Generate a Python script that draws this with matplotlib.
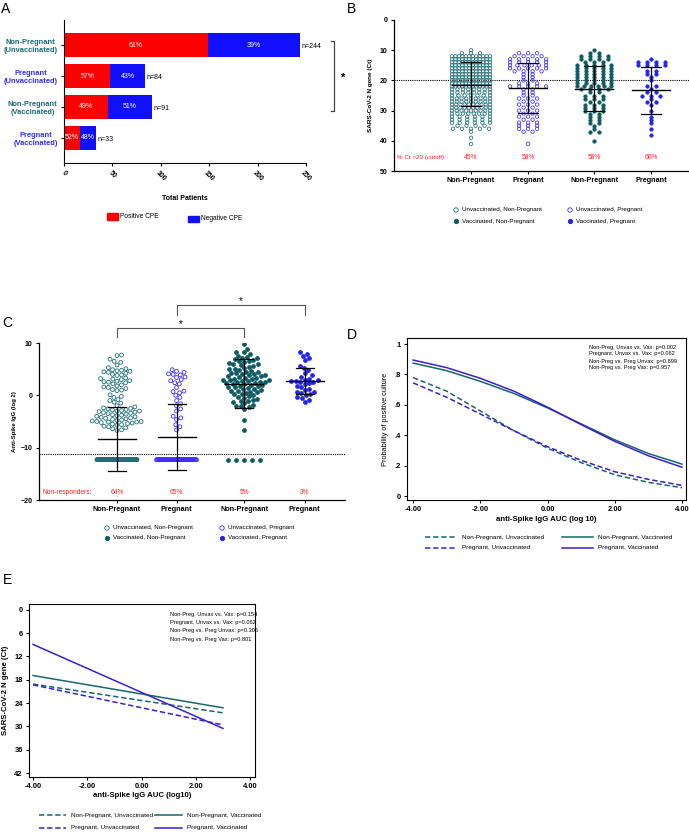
import numpy as np
import matplotlib
matplotlib.use("Agg")
import matplotlib.pyplot as plt
from matplotlib.patches import Rectangle

plt.rcParams['font.family'] = ['Liberation Sans', 'DejaVu Sans']

W, H = 689, 832

# ---------------- data ----------------
# panel A
a_groups = ["Non-Pregnant\n(Unvaccinated)", "Pregnant\n(Unvaccinated)",
            "Non-Pregnant\n(Vaccinated)", "Pregnant\n(Vaccinated)"]
a_positive = [149, 48, 45, 17]
a_total = [244, 84, 91, 33]
a_pos_pct = ["61%", "57%", "49%", "52%"]
a_neg_pct = ["39%", "43%", "51%", "48%"]

# panel B: Ct values (rounded to whole cycles) and how many patients at each
b_np_unvax_ct = list(range(10, 42))
b_np_unvax_n = [1, 3, 12, 12, 12, 12, 12, 12, 12, 12, 12, 12, 12, 8, 8, 7, 9, 9, 10, 10,
                9, 8, 6, 6, 6, 4, 5, 1, 0, 1, 0, 1]
b_preg_unvax_ct = list(range(11, 42))
b_preg_unvax_n = [3, 4, 5, 5, 6, 5, 4, 2, 2, 2, 3, 5, 2, 2, 2, 3, 2, 3, 2, 3,
                  2, 3, 2, 3, 3, 3, 2, 0, 0, 0, 1]
b_np_vax_ct = list(range(10, 41))
b_np_vax_n = [1, 2, 4, 4, 3, 5, 5, 5, 5, 5, 5, 5, 6, 4, 2, 3, 3, 2, 3, 3,
              3, 2, 2, 2, 2, 1, 1, 2, 0, 0, 1]
b_preg_vax_ct = list(range(13, 39))
b_preg_vax_n = [1, 4, 4, 0, 2, 2, 1, 1, 0, 2, 1, 2, 3, 1, 2, 1, 0, 1, 0, 1,
                1, 1, 0, 1, 0, 1]
b_mean = [21.5, 22.5, 22.8, 23.2]
b_sd_lo = [14.0, 14.4, 15.3, 15.5]
b_sd_hi = [28.6, 30.8, 30.2, 31.1]
b_pct = ["45%", "58%", "58%", "60%"]
b_cutoff = 20

# panel C: anti-spike IgG (log2), non-responders sit at the floor value
c_floor = -12.3
c_floor_n = [156, 55, 5, 0]
c_np_unvax = [7.7, 7.6, 6.9, 6.5, 6.3, 5.8, 5.3, 5.1, 4.9, 4.8, 4.7, 4.6, 4.5, 4.4, 4.2, 4.0,
              3.9, 3.8, 3.3, 3.2, 3.1, 3.0, 2.8, 2.7, 2.6, 2.5, 2.4, 2.0, 1.8, 1.6, 1.5, 1.3,
              1.0, 0.9, 0.1, -0.4, -0.8, -1.0, -1.3, -1.5, -2.0, -2.2, -2.4, -2.6, -2.7, -2.8,
              -2.9, -3.0, -3.0, -3.1, -3.2, -3.3, -3.4, -3.5, -3.6, -3.7, -3.8, -4.0, -4.1,
              -4.2, -4.4, -4.5, -4.6, -4.7, -4.8, -4.9, -5.0, -5.0, -5.1, -5.1, -5.2, -5.3,
              -5.4, -5.5, -5.6, -5.7, -5.9, -6.0, -6.2, -6.4, -6.6, -6.7, 1.1, 2.2, -0.2,
              -3.9, -4.3, -2.5]
c_preg_unvax = [4.9, 4.6, 4.4, 4.1, 4.0, 3.9, 3.5, 3.4, 3.0, 2.8, 2.4, 2.2, 1.5, 0.8, 0.7,
                0.5, 0.0, -0.4, -1.0, -1.6, -2.0, -2.6, -3.0, -4.0, -4.3, -4.6, -5.6, -6.0, -6.6]
c_np_vax = [9.8, 8.9, 8.3, 8.2, 7.9, 7.5, 7.3, 7.2, 7.0, 6.8, 6.6, 6.5, 6.3, 6.1, 6.0, 5.8,
            5.6, 5.5, 5.3, 5.1, 5.0, 4.8, 4.7, 4.5, 4.4, 4.2, 4.1, 4.0, 3.9, 3.8, 3.7, 3.6,
            3.5, 3.4, 3.3, 3.2, 3.1, 3.0, 2.9, 2.8, 2.7, 2.6, 2.5, 2.4, 2.3, 2.2, 2.1, 2.0,
            1.9, 1.8, 1.6, 1.5, 1.4, 1.3, 1.2, 1.0, 0.9, 0.8, 0.6, 0.5, 0.3, 0.2, 0.0, -0.2,
            -0.3, -0.5, -0.7, -0.9, -1.1, -1.3, -1.5, -1.8, -2.0, -2.1, -2.3, -2.6, -4.7,
            -6.7, 5.9, 4.3, 3.0, 2.6, 1.7, 0.7, -1.0, 7.1]
c_preg_vax = [8.3, 7.9, 7.6, 7.1, 6.8, 5.6, 5.2, 4.8, 4.3, 3.8, 3.5, 3.2, 3.0, 2.8, 2.7, 2.6,
              2.5, 2.3, 2.1, 1.8, 1.5, 1.2, 1.0, 0.7, 0.6, 0.4, 0.2, 0.0, -0.3, -0.5, -0.9,
              -1.2, 2.9]
c_mean = [-8.3, -8.0, 2.2, 2.7]
c_sd_lo = [-14.4, -14.3, -2.5, 0.2]
c_sd_hi = [-2.3, -1.7, 6.9, 5.3]
c_pct = ["64%", "65%", "5%", "3%"]
c_cutoff = -11.3

cat_labels = ["Non-Pregnant", "Pregnant", "Non-Pregnant", "Pregnant"]
legend_names = ["Unvaccinated, Non-Pregnant", "Unvaccinated, Pregnant",
                "Vaccinated, Non-Pregnant", "Vaccinated, Pregnant"]

# panel D: predicted probability of positive culture
d_x = [-4, -3, -2, -1, 0, 1, 2, 3, 4]
d_np_unvax = [0.78, 0.69, 0.56, 0.43, 0.315, 0.22, 0.14, 0.09, 0.055]
d_preg_unvax = [0.745, 0.65, 0.54, 0.43, 0.325, 0.235, 0.16, 0.11, 0.07]
d_np_vax = [0.875, 0.825, 0.755, 0.675, 0.58, 0.475, 0.37, 0.28, 0.21]
d_preg_vax = [0.895, 0.845, 0.775, 0.69, 0.585, 0.47, 0.36, 0.265, 0.19]
d_notes = ["Non-Preg, Unvax vs. Vax: p=0.002", "Pregnant, Unvax vs. Vax: p=0.062",
           "Non-Preg vs. Preg Unvax: p=0.899", "Non-Preg vs. Preg Vax: p=0.957"]

# panel E: predicted Ct
e_x = [-4, 3]
e_np_unvax = [19.1, 26.5]
e_preg_unvax = [19.3, 29.6]
e_np_vax = [16.9, 25.2]
e_preg_vax = [8.9, 30.5]
e_notes = ["Non-Preg, Unvax vs. Vax: p=0.154", "Pregnant, Unvax vs. Vax: p=0.062",
           "Non-Preg vs. Preg Unvax: p=0.306", "Non-Preg vs. Preg Vax: p=0.801"]
line_names = ["Non-Pregnant, Unvaccinated", "Non-Pregnant, Vaccinated",
              "Pregnant, Unvaccinated", "Pregnant, Vaccinated"]

# ---------------- styles ----------------
teal_txt = '#176b76'
blue_txt = '#2e2ef5'
teal_open = '#1f7079'
teal_fill = '#0c5a62'
blue_open = '#3d2bff'
blue_fill = '#2323f0'
line_teal = '#16666e'
line_purple = '#3b1ecf'
red_txt = '#ff2020'
FS = 5


def rect(x0, y0, x1, y1):
    return [x0 / W, 1 - y1 / H, (x1 - x0) / W, (y1 - y0) / H]


def swarm(vals, d, yscale):
    # simple beeswarm, offsets in pixels
    ypx = np.asarray(vals, float) * yscale
    xs = np.zeros(len(ypx))
    placed = []
    for i in np.argsort(ypx):
        y = ypx[i]
        near = [(px, py) for px, py in placed if abs(py - y) < d]
        cands = [0.0]
        for px, py in near:
            dx = np.sqrt(d * d - (py - y) ** 2)
            cands += [px + dx, px - dx]
        cands.sort(key=abs)
        for c in cands:
            if all((c - px) ** 2 + (y - py) ** 2 >= d * d - 1e-6 for px, py in near):
                xs[i] = c
                break
        placed.append((xs[i], y))
    return xs


def row_offsets(n, half_w, max_gap):
    # spread the points of one row across the column
    if n == 1:
        return np.array([0.0])
    hw = min(half_w, (n - 1) * max_gap / 2)
    return np.linspace(-hw, hw, n)


fig = plt.figure(figsize=(W / 100, H / 100), dpi=100)
ov = fig.add_axes([0, 0, 1, 1])
ov.set_xlim(0, W)
ov.set_ylim(H, 0)
ov.axis('off')
ov.set_zorder(10)

for lab, (x, y) in zip("ABCDE", [(1, 9), (347, 9), (2, 323), (347, 335), (3, 580)]):
    ov.text(x, y, lab, fontsize=10, va='center', ha='left')

# ---------------- A ----------------
ax = fig.add_axes(rect(64, 20, 306, 163))
ypos = np.arange(len(a_groups))
neg = [t - p for t, p in zip(a_total, a_positive)]
ax.barh(ypos, a_positive, height=0.8, color='#ff0000')
ax.barh(ypos, neg, left=a_positive, height=0.8, color='#1010ff')
for i in range(len(a_groups)):
    ax.text(a_positive[i] / 2, i, a_pos_pct[i], color='white', fontsize=FS,
            ha='center', va='center')
    ax.text(a_positive[i] + neg[i] / 2, i, a_neg_pct[i], color='white', fontsize=FS,
            ha='center', va='center')
    ax.text(a_total[i] + 1.5, i + 0.05, "n=%d" % a_total[i], fontsize=FS,
            ha='left', va='center')
ax.set_xlim(0, 250)
ax.set_ylim(3.81, -0.81)
ax.set_yticks(ypos)
ax.set_yticklabels(a_groups, fontsize=5.4, fontweight='bold', multialignment='center')
for t, c in zip(ax.get_yticklabels(), [teal_txt, blue_txt, teal_txt, blue_txt]):
    t.set_color(c)
ax.set_xticks([0, 50, 100, 150, 200, 250])
ax.set_xticklabels(['0', '50', '100', '150', '200', '250'], rotation=-45,
                   ha='center', va='top', fontsize=FS, fontweight='bold')
ax.spines[['top', 'right']].set_visible(False)
ax.spines[['left', 'bottom']].set_linewidth(0.8)
ax.tick_params(length=2.5, width=0.8, pad=2)
ax.set_xlabel("Total Patients", fontsize=FS, fontweight='bold', labelpad=9)
# significance bracket
ax.plot([276, 279, 279, 276], [-0.13, -0.13, 2.13, 2.13], color='#444444', lw=0.9,
        clip_on=False)
ax.text(286, 1.06, "*", fontsize=8, fontweight='bold', ha='left', va='center')
# legend
ov.add_patch(Rectangle((107, 213), 11, 7, color='#ff0000'))
ov.text(120, 216.5, "Positive CPE", fontsize=4.8, va='center')
ov.add_patch(Rectangle((188, 216), 11, 6, color='#1010ff'))
ov.text(201, 219, "Negative CPE", fontsize=4.8, va='center')


def error_bars(ax, pos, mean, lo, hi, hw_mean, hw_cap):
    for p, m, l, h in zip(pos, mean, lo, hi):
        ax.plot([p, p], [l, h], color='black', lw=0.9, zorder=5)
        ax.plot([p - hw_mean, p + hw_mean], [m, m], color='black', lw=1.0, zorder=5)
        ax.plot([p - hw_cap, p + hw_cap], [l, l], color='black', lw=0.9, zorder=5)
        ax.plot([p - hw_cap, p + hw_cap], [h, h], color='black', lw=0.9, zorder=5)


styles = [dict(facecolors='none', edgecolors=teal_open),
          dict(facecolors='none', edgecolors=blue_open),
          dict(color=teal_fill),
          dict(color=blue_fill)]

# ---------------- B ----------------
ax = fig.add_axes(rect(394, 20, 689, 171))
b_pos = [1, 2, 3.16, 4.16]
bx_scale = 57.0
b_groups = [(b_np_unvax_ct, b_np_unvax_n), (b_preg_unvax_ct, b_preg_unvax_n),
            (b_np_vax_ct, b_np_vax_n), (b_preg_vax_ct, b_preg_vax_n)]
b_half = [19, 18, 17, 17]
for p, (cts, ns), hw, st in zip(b_pos, b_groups, b_half, styles):
    xs, ys = [], []
    for ct, n in zip(cts, ns):
        if n == 0:
            continue
        xs += list(p + row_offsets(n, hw, 9) / bx_scale)
        ys += [ct] * n
    ax.scatter(xs, ys, s=6, linewidths=0.55, zorder=3, **st)
error_bars(ax, b_pos, b_mean, b_sd_lo, b_sd_hi, 19 / bx_scale, 10 / bx_scale)
ax.axhline(b_cutoff, color='black', lw=0.8, ls=(0, (1, 1)), zorder=2)
ax.set_ylim(50, 0)
ax.set_xlim(-0.35, 4.82)
ax.set_yticks([0, 10, 20, 30, 40, 50])
ax.set_xticks(b_pos)
ax.set_xticklabels(cat_labels, fontsize=5.2, fontweight='bold')
for t in ax.get_yticklabels():
    t.set_fontweight('bold')
ax.tick_params(axis='y', labelsize=FS, length=2.5, width=0.8, pad=2)
ax.tick_params(axis='x', length=2.5, width=0.8, pad=2)
ax.spines[['top', 'right']].set_visible(False)
ax.spines[['left', 'bottom']].set_linewidth(0.9)
ax.set_ylabel("SARS-CoV-2 N gene (Ct)", fontsize=4.6, fontweight='bold', labelpad=5)
tr = ax.get_yaxis_transform()
ax.text(0.01, 45.5, "% Ct >20 (cutoff):", color=red_txt, fontsize=4.5, va='center',
        transform=tr)
for p, s in zip(b_pos, b_pct):
    ax.text(p, 45.5, s, color=red_txt, fontsize=4.8, ha='center', va='center')

# ---------------- C ----------------
ax = fig.add_axes(rect(39, 343, 345, 500))
c_pos = [1, 2, 3.14, 4.15]
cx_scale = 59.5
cy_scale = 157 / 30
c_sets = [c_np_unvax, c_preg_unvax, c_np_vax, c_preg_vax]
floor_hw = [20, 20, 16, 0]
for p, vals, nf, hw, st in zip(c_pos, c_sets, c_floor_n, floor_hw, styles):
    off = swarm(vals, 4.6, cy_scale)
    xs = list(p + off / cx_scale)
    ys = list(vals)
    if nf > 0:
        xs += list(p + np.linspace(-hw, hw, nf) / cx_scale)
        ys += [c_floor] * nf
    ax.scatter(xs, ys, s=7.5, linewidths=0.6, zorder=3, **st)
error_bars(ax, c_pos, c_mean, c_sd_lo, c_sd_hi, 19 / cx_scale, 9 / cx_scale)
ax.axhline(c_cutoff, color='black', lw=0.8, ls=(0, (1, 1)), zorder=2)
ax.set_ylim(-20, 10)
ax.set_xlim(-0.31, 4.83)
ax.set_yticks([-20, -10, 0, 10])
ax.set_xticks(c_pos)
ax.set_xticklabels(cat_labels, fontsize=5.2, fontweight='bold')
for t in ax.get_yticklabels():
    t.set_fontweight('bold')
ax.tick_params(axis='y', labelsize=FS, length=2.5, width=0.8, pad=2)
ax.tick_params(axis='x', length=2.5, width=0.8, pad=2)
ax.spines[['top', 'right']].set_visible(False)
ax.spines[['left', 'bottom']].set_linewidth(0.9)
ax.set_ylabel("Anti-Spike IgG (log 2)", fontsize=4.3, fontweight='bold', labelpad=3)
tr = ax.get_yaxis_transform()
ax.text(0.01, -18.5, "Non-responders:", color=red_txt, fontsize=4.8, va='center',
        transform=tr)
for p, s in zip(c_pos, c_pct):
    ax.text(p, -18.5, s, color=red_txt, fontsize=4.8, ha='center', va='center')
# brackets
ax.plot([c_pos[0], c_pos[0], c_pos[2], c_pos[2]], [11.1, 12.9, 12.9, 11.1],
        color='#555555', lw=0.8, clip_on=False)
ax.text((c_pos[0] + c_pos[2]) / 2, 13.6, "*", fontsize=7, ha='center', va='center')
ax.plot([c_pos[1], c_pos[1], c_pos[3], c_pos[3]], [15.4, 17.3, 17.3, 15.4],
        color='#555555', lw=0.8, clip_on=False)
ax.text((c_pos[1] + c_pos[3]) / 2, 18.0, "*", fontsize=7, ha='center', va='center')

# legends for B and C
leg_kw = [dict(facecolors='none', edgecolors=teal_open), dict(facecolors='none', edgecolors=blue_open),
          dict(color=teal_fill), dict(color=blue_fill)]
for (mx1, mx2, y1, y2) in [(456, 570, 210, 221), (107, 222, 528, 538)]:
    spots = [(mx1, y1), (mx2, y1), (mx1, y2), (mx2, y2)]
    for (mx, my), name, kw in zip(spots, legend_names, leg_kw):
        ov.scatter([mx], [my], s=10, linewidths=0.6, **kw)
        ov.text(mx + 6, my, name, fontsize=4.5, va='center')


# ---------------- D ----------------
def line_panel(ax):
    for sp in ax.spines.values():
        sp.set_linewidth(0.8)
    ax.tick_params(length=2.5, width=0.8, pad=2, labelsize=5.4)
    for t in ax.get_xticklabels() + ax.get_yticklabels():
        t.set_fontweight('bold')


ax = fig.add_axes(rect(407, 338, 686, 500))
dash = (0, (3.5, 1.8))
ax.plot(d_x, d_np_unvax, color=line_teal, lw=1.1, ls=dash)
ax.plot(d_x, d_preg_unvax, color=line_purple, lw=1.1, ls=dash)
ax.plot(d_x, d_np_vax, color=line_teal, lw=1.1)
ax.plot(d_x, d_preg_vax, color=line_purple, lw=1.1)
ax.set_xlim(-4.18, 4.12)
ax.set_ylim(-0.026, 1.04)
ax.set_xticks([-4, -2, 0, 2, 4])
ax.set_xticklabels(["%.2f" % v for v in [-4, -2, 0, 2, 4]])
ax.set_yticks([0, 0.2, 0.4, 0.6, 0.8, 1])
ax.set_yticklabels(['0', '.2', '.4', '.6', '.8', '1'])
line_panel(ax)
ax.set_xlabel("anti-Spike IgG AUC (log 10)", fontsize=5.6, fontweight='bold', labelpad=2)
ax.set_ylabel("Probability of positive culture", fontsize=5.3, labelpad=4)
for k, s in enumerate(d_notes):
    ov.text(589, 347 + 7 * k, s, fontsize=4.1, va='center')

# ---------------- E ----------------
ax = fig.add_axes(rect(29, 604, 255, 777))
ax.plot(e_x, e_np_unvax, color=line_teal, lw=1.1, ls=dash)
ax.plot(e_x, e_preg_unvax, color=line_purple, lw=1.1, ls=dash)
ax.plot(e_x, e_np_vax, color=line_teal, lw=1.1)
ax.plot(e_x, e_preg_vax, color=line_purple, lw=1.1)
ax.set_xlim(-4.15, 4.18)
ax.set_ylim(43, -1.5)
ax.set_xticks([-4, -2, 0, 2, 4])
ax.set_xticklabels(["%.2f" % v for v in [-4, -2, 0, 2, 4]])
ax.set_yticks(list(range(0, 43, 6)))
line_panel(ax)
ax.set_xlabel("anti-Spike IgG AUC (log10)", fontsize=5.6, fontweight='bold', labelpad=1)
ax.set_ylabel("SARS-CoV-2 N gene (Ct)", fontsize=5.6, fontweight='bold', labelpad=4)
for k, s in enumerate(e_notes):
    ov.text(170, 614.5 + 8.2 * k, s, fontsize=4.1, va='center')

# line legends for D and E
leg_styles = [(line_teal, dash), (line_teal, '-'), (line_purple, dash), (line_purple, '-')]
for (l1, r1, l2, r2, y1, y2) in [(425, 457, 562, 593, 537, 548), (39, 66, 155, 182, 815, 828)]:
    spots = [(l1, r1, y1), (l2, r2, y1), (l1, r1, y2), (l2, r2, y2)]
    for (a, b, yy), name, (c, ls) in zip(spots, line_names, leg_styles):
        ov.plot([a, b], [yy, yy], color=c, ls=ls, lw=1.1)
        ov.text(b + 5, yy, name, fontsize=4.6, va='center')

fig.savefig("out.png", dpi=100)
